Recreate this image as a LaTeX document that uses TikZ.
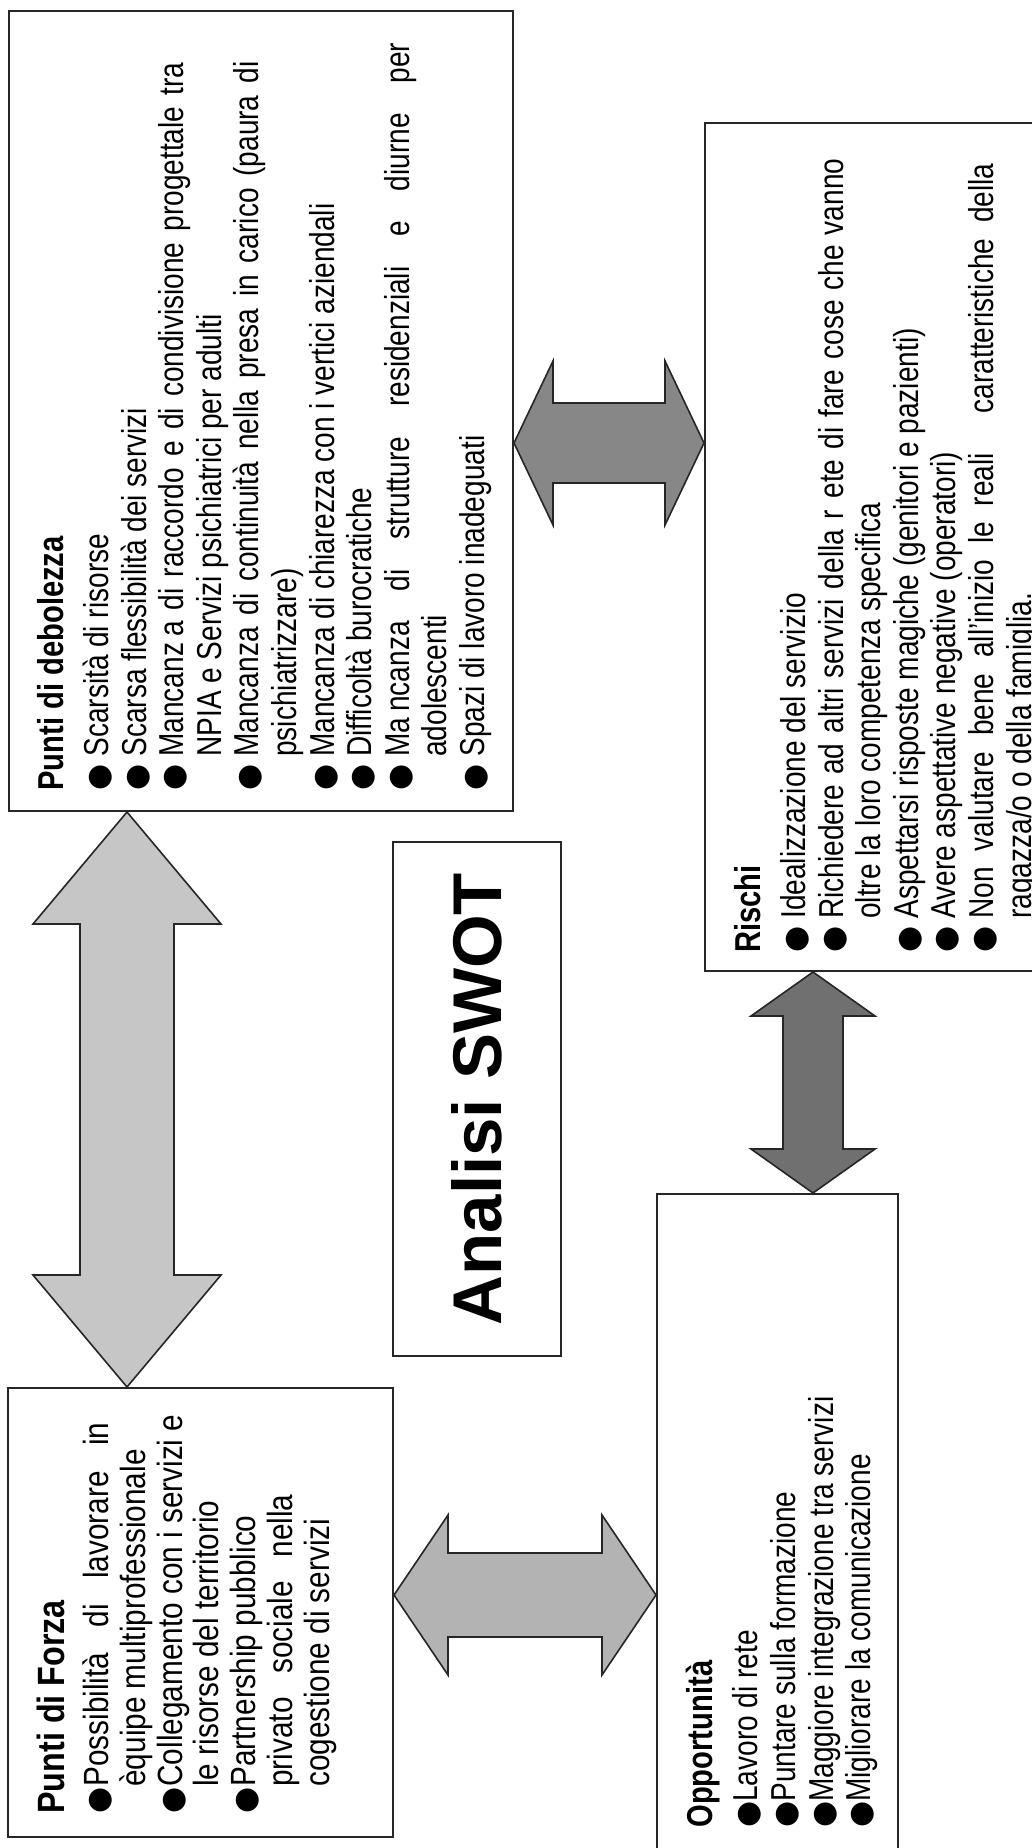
\documentclass[tikz,border=0pt]{standalone}
\usepackage{fontspec}
\setmainfont{Liberation Sans}
\newfontfamily\condfont{Liberation Sans}[FakeStretch=0.81]
\newfontfamily\narrowfont{Liberation Sans}[FakeStretch=0.85]
\newfontfamily\dotfont{DejaVu Sans}
\usetikzlibrary{calc}
\definecolor{greyFD}{HTML}{C6C6C6}
\definecolor{greyDR}{HTML}{878787}
\definecolor{greyFO}{HTML}{B3B3B3}
\definecolor{greyRO}{HTML}{707070}
\newcommand{\bul}[1][17pt]{\makebox[#1][l]{\dotfont\fontsize{15}{15}\selectfont ●}}
\newcommand{\ind}[1][17pt]{\hspace*{#1}}
\newcommand{\sline}[2]{\makebox[#1][s]{#2}}
\newcommand{\head}[1]{{\fontsize{18}{20}\selectfont\bfseries #1}}
\newcommand{\vdarrow}[6]{\draw[#6] let \p1=(#1), \p2=(#2) in
  (\x1,\y1) -- ({\x1+#3},{\y1-#5}) -- ({\x1+#4},{\y1-#5}) -- ({\x1+#4},{\y2+#5})
  -- ({\x1+#3},{\y2+#5}) -- (\x1,\y2) -- ({\x1-#3},{\y2+#5}) -- ({\x1-#4},{\y2+#5})
  -- ({\x1-#4},{\y1-#5}) -- ({\x1-#3},{\y1-#5}) -- cycle;}
\newcommand{\hdarrow}[6]{\draw[#6] let \p1=(#1), \p2=(#2) in
  (\x1,\y1) -- ({\x1+#5},{\y1+#3}) -- ({\x1+#5},{\y1+#4}) -- ({\x2-#5},{\y1+#4})
  -- ({\x2-#5},{\y1+#3}) -- (\x2,\y1) -- ({\x2-#5},{\y1-#3}) -- ({\x2-#5},{\y1-#4})
  -- ({\x1+#5},{\y1-#4}) -- ({\x1+#5},{\y1-#3}) -- cycle;}
\tikzset{
  box/.style={draw=black!85, line width=1pt, inner sep=0pt},
  cond/.style={rotate=90, anchor=north west, inner sep=0pt, align=left,
    font=\condfont\fontsize{17.3}{18.8}\selectfont},
  narrow/.style={cond, font=\narrowfont\fontsize{17.5}{18.35}\selectfont},
  blockarrow/.style={draw=black!85, line width=0.8pt}
}
\begin{document}
\begin{tikzpicture}[x=0.5pt,y=-0.5pt]
\path[use as bounding box] (0,0) rectangle (1032,1848);
\clip (0,0) rectangle (1032,1848);
\fill[white] (0,0) rectangle (1032,1848);

\node[box, minimum width=252pt, minimum height=400pt] (W) at (261,411) {};
\node[box, minimum width=170pt, minimum height=424pt] (R) at (875,547) {};
\node[box, minimum width=192.5pt, minimum height=224.5pt] (F) at (200.5,1612.5) {};
\node[box, minimum width=120.5pt, minimum height=338pt] (O) at (777.5,1532) {};
\node[box, rotate=90, minimum width=257pt, minimum height=84pt,
  font=\bfseries\fontsize{34.5}{36}\selectfont] (T) at (477,1099) {Analisi SWOT};

\node[cond] (Wt) at ($(W.south west)+(29,-21)$) {%
\head{Punti di debolezza}\\[3.7pt]
\bul Scarsità di risorse\\
\bul Scarsa flessibilità dei servizi\\
\bul\sline{347pt}{Mancanz\hspace{3pt}a di raccordo e di condivisione progettale tra}\\
\ind NPIA e Servizi psichiatrici per adulti\\
\bul\sline{347.5pt}{Mancanza di continuità nella presa in carico (paura di}\\
\ind psichiatrizzare)\\
\bul Mancanza di chiarezza con i vertici aziendali\\
\bul Difficoltà burocratiche\\
\bul\sline{357pt}{Ma\hspace{3pt}ncanza di strutture residenziali e diurne per}\\
\ind adolescenti\\
\bul Spazi di lavoro inadeguati};

\node[cond] (Rt) at ($(R.south west)+(30,-19)$) {%
\head{Rischi}\\[3.7pt]
\bul Idealizzazione del servizio\\
\bul\sline{380pt}{Richiedere ad altri servizi della r\hspace{6pt}ete di fare cose che vanno}\\
\ind oltre la loro competenza specifica\\
\bul Aspettarsi risposte magiche (genitori e pazienti)\\
\bul Avere aspettative negative (operatori)\\
\bul\sline{377.5pt}{Non valutare bene all’inizio le reali\hspace{12pt} caratteristiche della}\\
\ind ragazza/o o della famiglia.};

\node[narrow] (Ft) at ($(F.south west)+(30,-24)$) {%
{\fontsize{19}{20}\selectfont\bfseries Punti di Forza}\\[3.6pt]
\bul[13.5pt]\sline{182pt}{Possibilità di lavorare in}\\
\ind[13.5pt]èquipe multiprofessionale\\
\bul[13.5pt]Collegamento con i servizi e\\
\ind[13.5pt]le risorse del territorio\\
\bul[13.5pt]Partnership pubblico\\
\ind[13.5pt]\sline{146pt}{privato sociale nella}\\
\ind[13.5pt]cogestione di servizi};

\node[cond] (Ot) at ($(O.south west)+(30,-43)$) {%
\head{Opportunità}\\[3.7pt]
\bul[13pt]Lavoro di rete\\
\bul[13pt]Puntare sulla formazione\\
\bul[13pt]Maggiore integrazione tra servizi\\
\bul[13pt]Migliorare la comunicazione};

\coordinate (a1) at (127,0);
\coordinate (a2) at (0,443);
\coordinate (a3) at (0,1595);
\coordinate (a4) at (813,0);
\vdarrow{W.south -| a1}{F.north -| a1}{47pt}{23.5pt}{56pt}{blockarrow, fill=greyFD}
\hdarrow{W.east |- a2}{R.west |- a2}{41pt}{20pt}{19.5pt}{blockarrow, fill=greyDR}
\hdarrow{F.east |- a3}{O.west |- a3}{40pt}{21pt}{27pt}{blockarrow, fill=greyFO}
\vdarrow{R.south -| a4}{O.north -| a4}{31pt}{15pt}{22pt}{blockarrow, fill=greyRO}
\end{tikzpicture}
\end{document}
